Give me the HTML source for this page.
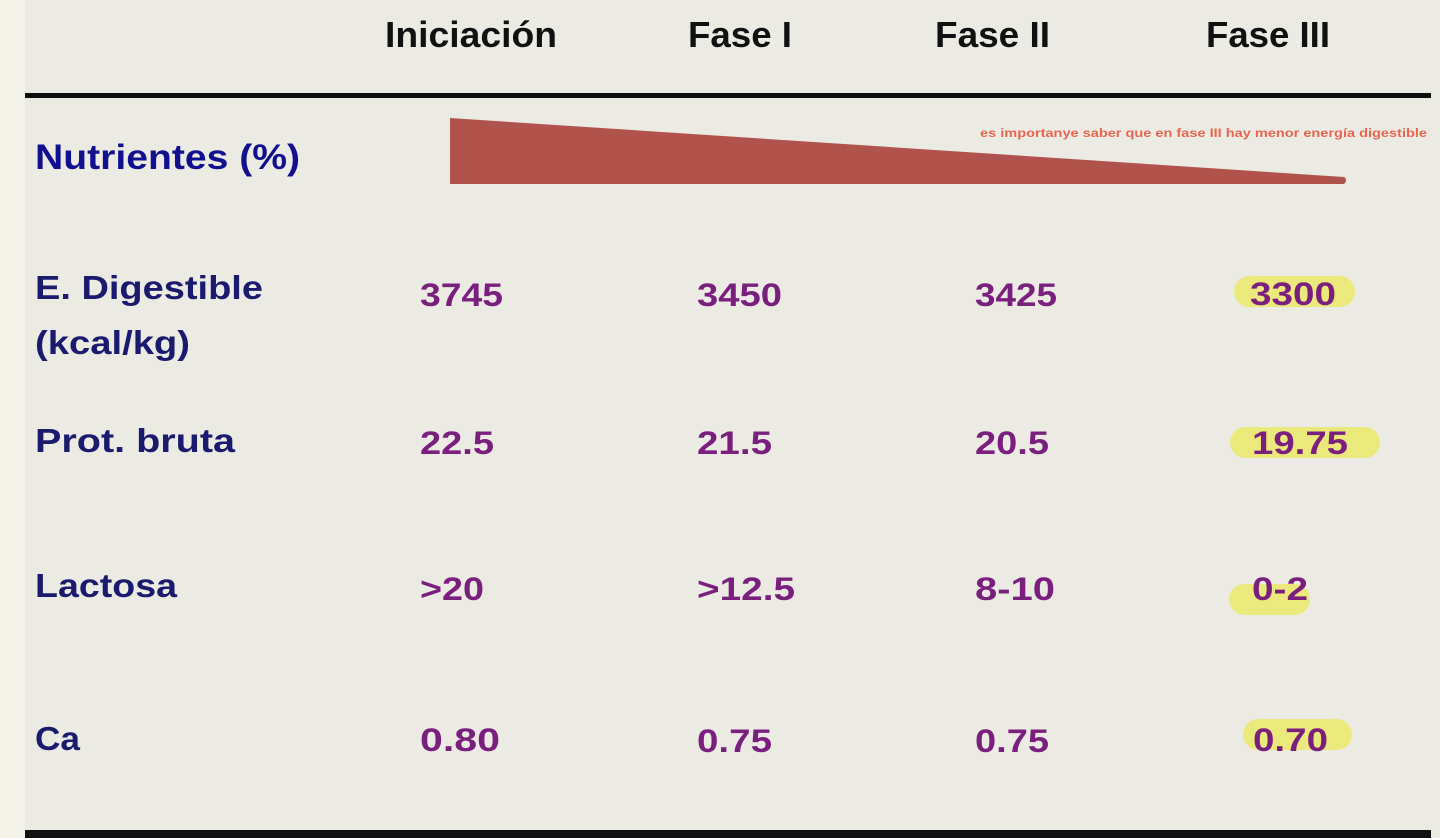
<!DOCTYPE html>
<html>
<head>
<meta charset="utf-8">
<style>
  html,body{margin:0;padding:0;background:#ecebe3;}
  svg{display:block;}
  .h{font-family:"Liberation Sans",sans-serif;font-weight:bold;font-size:36px;fill:#111111;}
  .l{font-family:"Liberation Sans",sans-serif;font-weight:bold;font-size:33px;fill:#1a1a6e;}
  .n{font-family:"Liberation Sans",sans-serif;font-weight:bold;font-size:35px;fill:#11118f;}
  .v{font-family:"Liberation Sans",sans-serif;font-weight:bold;font-size:32px;fill:#7a1f7e;}
  .r{font-family:"Liberation Sans",sans-serif;font-weight:bold;font-size:12px;fill:#e8664f;}
</style>
</head>
<body>
<svg width="1440" height="838" viewBox="0 0 1440 838" xmlns="http://www.w3.org/2000/svg">
  <rect x="0" y="0" width="1440" height="838" fill="#ecebe3"/>
  <rect x="0" y="0" width="25" height="838" fill="#f4f3ea"/>

  <!-- header -->
  <text class="h" x="385" y="47" textLength="172" lengthAdjust="spacingAndGlyphs">Iniciación</text>
  <text class="h" x="688" y="47" textLength="104" lengthAdjust="spacingAndGlyphs">Fase I</text>
  <text class="h" x="935" y="47" textLength="115" lengthAdjust="spacingAndGlyphs">Fase II</text>
  <text class="h" x="1206" y="47" textLength="124" lengthAdjust="spacingAndGlyphs">Fase III</text>

  <rect x="25" y="93" width="1406" height="5" fill="#0d0d0d"/>

  <!-- Nutrientes row -->
  <text class="n" x="35" y="169" textLength="265" lengthAdjust="spacingAndGlyphs">Nutrientes (%)</text>
  <path d="M450,118 L1344,177 Q1348,180 1344,184 L450,184 Z" fill="#b0534d"/>
  <text class="r" x="980" y="137" textLength="447" lengthAdjust="spacingAndGlyphs">es importanye saber que en fase III hay menor energía digestible</text>

  <!-- highlights -->
  <rect x="1234" y="276" width="121" height="31" rx="15.5" fill="#ece97c"/>
  <rect x="1230" y="427" width="150" height="31" rx="15.5" fill="#ece97c"/>
  <rect x="1229" y="584" width="81" height="31" rx="15.5" fill="#ece97c"/>
  <rect x="1243" y="719" width="109" height="31" rx="15.5" fill="#ece97c"/>

  <!-- labels -->
  <text class="l" x="35" y="299" textLength="228" lengthAdjust="spacingAndGlyphs">E. Digestible</text>
  <text class="l" x="35" y="354" textLength="155" lengthAdjust="spacingAndGlyphs">(kcal/kg)</text>
  <text class="l" x="35" y="452" textLength="200" lengthAdjust="spacingAndGlyphs">Prot. bruta</text>
  <text class="l" x="35" y="597" textLength="142" lengthAdjust="spacingAndGlyphs">Lactosa</text>
  <text class="l" x="35" y="750" textLength="45" lengthAdjust="spacingAndGlyphs">Ca</text>

  <!-- row 1 -->
  <text class="v" x="420" y="306" textLength="83" lengthAdjust="spacingAndGlyphs">3745</text>
  <text class="v" x="697" y="306" textLength="85" lengthAdjust="spacingAndGlyphs">3450</text>
  <text class="v" x="975" y="306" textLength="82" lengthAdjust="spacingAndGlyphs">3425</text>
  <text class="v" x="1250" y="305" textLength="86" lengthAdjust="spacingAndGlyphs">3300</text>

  <!-- row 2 -->
  <text class="v" x="420" y="454" textLength="74" lengthAdjust="spacingAndGlyphs">22.5</text>
  <text class="v" x="697" y="454" textLength="75" lengthAdjust="spacingAndGlyphs">21.5</text>
  <text class="v" x="975" y="454" textLength="74" lengthAdjust="spacingAndGlyphs">20.5</text>
  <text class="v" x="1252" y="454" textLength="96" lengthAdjust="spacingAndGlyphs">19.75</text>

  <!-- row 3 -->
  <text class="v" x="420" y="600" textLength="64" lengthAdjust="spacingAndGlyphs">&gt;20</text>
  <text class="v" x="697" y="600" textLength="98" lengthAdjust="spacingAndGlyphs">&gt;12.5</text>
  <text class="v" x="975" y="600" textLength="80" lengthAdjust="spacingAndGlyphs">8-10</text>
  <text class="v" x="1252" y="600" textLength="56" lengthAdjust="spacingAndGlyphs">0-2</text>

  <!-- row 4 -->
  <text class="v" x="420" y="751" textLength="80" lengthAdjust="spacingAndGlyphs">0.80</text>
  <text class="v" x="697" y="752" textLength="75" lengthAdjust="spacingAndGlyphs">0.75</text>
  <text class="v" x="975" y="752" textLength="74" lengthAdjust="spacingAndGlyphs">0.75</text>
  <text class="v" x="1253" y="751" textLength="75" lengthAdjust="spacingAndGlyphs">0.70</text>

  <rect x="25" y="830" width="1406" height="8" fill="#111111"/>
</svg>
</body>
</html>
